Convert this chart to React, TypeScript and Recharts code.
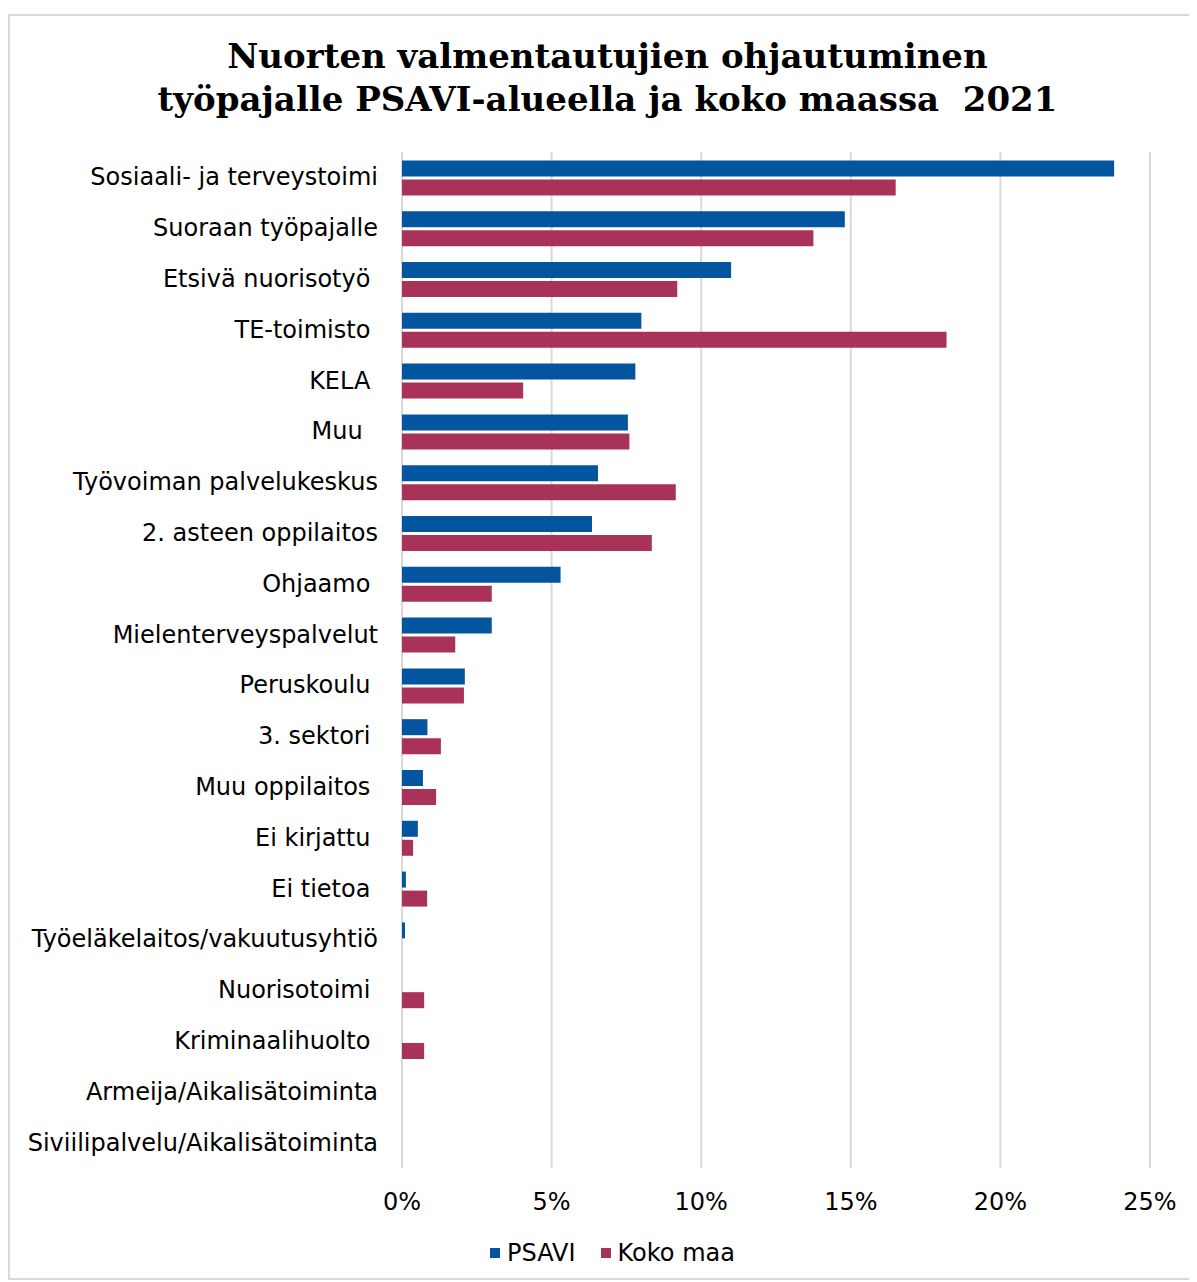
import React from 'react';
import { BarChart, Bar, XAxis, YAxis, CartesianGrid, Legend } from 'recharts';

// categories as shown on the axis (trailing spaces kept as in the original)
const categories = [
  'Sosiaali- ja terveystoimi',
  'Suoraan työpajalle',
  'Etsivä nuorisotyö ',
  'TE-toimisto ',
  'KELA ',
  'Muu  ',
  'Työvoiman palvelukeskus',
  '2. asteen oppilaitos',
  'Ohjaamo ',
  'Mielenterveyspalvelut',
  'Peruskoulu ',
  '3. sektori ',
  'Muu oppilaitos ',
  'Ei kirjattu ',
  'Ei tietoa ',
  'Työeläkelaitos/vakuutusyhtiö',
  'Nuorisotoimi ',
  'Kriminaalihuolto ',
  'Armeija/Aikalisätoiminta',
  'Siviilipalvelu/Aikalisätoiminta',
];

const psaviValues = [23.8, 14.8, 11.0, 8.0, 7.8, 7.55, 6.55, 6.35, 5.3, 3.0, 2.1, 0.85, 0.7, 0.53, 0.13, 0.1, 0, 0, 0, 0];
const kokoMaaValues = [16.5, 13.75, 9.2, 18.2, 4.05, 7.6, 9.15, 8.35, 3.0, 1.78, 2.07, 1.3, 1.14, 0.37, 0.84, 0, 0.74, 0.74, 0, 0];

const xTicks = [0, 5, 10, 15, 20, 25];

const data = categories.map((name, i) => ({
  name,
  psavi: psaviValues[i],
  koko: kokoMaaValues[i],
}));

const BLUE = '#02559E';
const RED = '#A93358';
const FONT = '"DejaVu Sans", Verdana, sans-serif';

const CategoryTick = (props: any) => {
  const { x, y, payload } = props;
  return (
    <text
      x={x}
      y={y}
      textAnchor="end"
      dominantBaseline="central"
      fontFamily={FONT}
      fontSize={24}
      fill="#000"
      style={{ whiteSpace: 'pre' }}
    >
      {payload.value}
    </text>
  );
};

const renderLegend = () => (
  <div
    style={{
      display: 'flex',
      justifyContent: 'center',
      alignItems: 'center',
      paddingLeft: 22,
      fontFamily: FONT,
      fontSize: 24,
      color: '#000',
      lineHeight: '28px',
    }}
  >
    <span style={{ width: 10, height: 10, background: BLUE, display: 'inline-block', marginRight: 7 }} />
    <span style={{ marginRight: 25 }}>PSAVI</span>
    <span style={{ width: 10, height: 10, background: RED, display: 'inline-block', marginRight: 7 }} />
    <span>Koko maa</span>
  </div>
);

export default function App() {
  return (
    <div style={{ paddingTop: 6 }}>
      <div
        style={{
          position: 'relative',
          width: 1183,
          height: 1262,
          border: '2px solid #d9d9d9',
          background: '#fff',
        }}
      >
        <div
          style={{
            position: 'absolute',
            top: 19,
            left: 0,
            width: 1183,
            paddingLeft: 12,
            boxSizing: 'border-box',
            textAlign: 'center',
            fontFamily: '"DejaVu Serif", Georgia, serif',
            fontWeight: 'bold',
            fontSize: 34,
            lineHeight: '43px',
            color: '#000',
            whiteSpace: 'pre',
          }}
        >
          {'Nuorten valmentautujien ohjautuminen\ntyöpajalle PSAVI-alueella ja koko maassa  2021'}
        </div>
        <BarChart
          width={1183}
          height={1262}
          data={data}
          layout="vertical"
          margin={{ top: 136, right: 43, bottom: 70, left: 0 }}
          barCategoryGap="16.5%"
          barGap={3}
        >
          <CartesianGrid horizontal={false} stroke="#d9d9d9" strokeWidth={2} />
          <XAxis
            type="number"
            domain={[0, 25]}
            ticks={xTicks}
            tickFormatter={(v: number) => `${v}%`}
            axisLine={false}
            tickLine={false}
            tickSize={0}
            tickMargin={25}
            height={40}
            tick={{ fontFamily: FONT, fontSize: 24, fill: '#000' }}
          />
          <YAxis
            type="category"
            dataKey="name"
            width={392}
            axisLine={false}
            tickLine={false}
            tickSize={0}
            tickMargin={24}
            interval={0}
            tick={<CategoryTick />}
          />
          <Legend
            verticalAlign="middle"
            align="center"
            content={renderLegend}
            wrapperStyle={{ top: 1223, left: 0, width: 1183 }}
          />
          <Bar dataKey="psavi" name="PSAVI" fill={BLUE} isAnimationActive={false} />
          <Bar dataKey="koko" name="Koko maa" fill={RED} isAnimationActive={false} />
        </BarChart>
      </div>
    </div>
  );
}
